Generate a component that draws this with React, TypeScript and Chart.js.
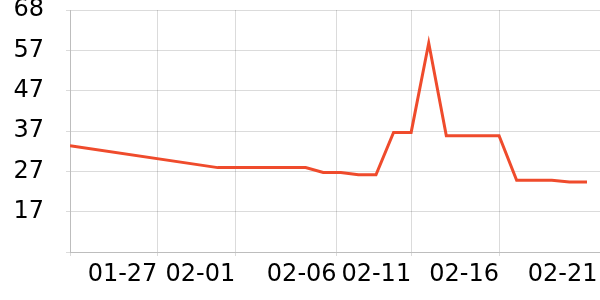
import React, { useEffect, useRef } from "react";
import { Chart, registerables } from "chart.js";

Chart.register(...registerables);

// Dates (MM-DD or MM-DD HH:mm) and values of the series
const pointDates = [
  "01-22 14:24", "01-31", "02-01", "02-02", "02-03", "02-04", "02-05",
  "02-06", "02-07", "02-08", "02-09", "02-10", "02-11", "02-12",
  "02-13", "02-14", "02-15", "02-16", "02-17", "02-18", "02-19",
  "02-20", "02-21",
];
const pointValues = [
  33.5, 28, 28, 28, 28, 28, 28,
  26.8, 26.8, 26.2, 26.2, 36.85, 36.85, 59.3,
  36, 36, 36, 36, 24.8, 24.8, 24.8,
  24.4, 24.4,
];

// x axis range and tick times
const xRange = ["01-22 14:24", "02-21 17:45"];
const xTickDates = ["01-27 13:40", "02-01", "02-06 18:14", "02-11", "02-16", "02-21 14:24"];

// y axis range and tick count
const yRange = [6.8, 67.6];
const yTickCount = 7;

const YEAR = 2024;
function toDay(s: string): number {
  const [md, hm] = s.split(" ");
  const [m, d] = md.split("-").map(Number);
  let h = 0, mi = 0;
  if (hm) [h, mi] = hm.split(":").map(Number);
  return Date.UTC(YEAR, m - 1, d, h, mi) / 86400000;
}
function fmtDay(v: number): string {
  const dt = new Date(v * 86400000);
  const m = String(dt.getUTCMonth() + 1).padStart(2, "0");
  const d = String(dt.getUTCDate()).padStart(2, "0");
  return `${m}-${d}`;
}

const GRID = "rgba(0,0,0,0.14)";

export default function App() {
  const ref = useRef<HTMLCanvasElement | null>(null);
  useEffect(() => {
    if (!ref.current) return;
    const font = { family: "DejaVu Sans", size: 24 };
    const xMin = toDay(xRange[0]);
    const xMax = toDay(xRange[1]);
    const tickDays = xTickDates.map(toDay);
    const chart = new Chart(ref.current, {
      type: "line",
      data: {
        datasets: [
          {
            data: pointDates.map((d, i) => ({ x: toDay(d), y: pointValues[i] })),
            borderColor: "#ef4b2c",
            backgroundColor: "#ef4b2c",
            borderWidth: 3,
            pointRadius: 0,
            tension: 0,
          },
        ],
      },
      options: {
        animation: false,
        responsive: true,
        maintainAspectRatio: false,
        plugins: { legend: { display: false }, tooltip: { enabled: false } },
        layout: { padding: 0 },
        scales: {
          x: {
            type: "linear",
            min: xMin,
            max: xMax,
            afterBuildTicks: (scale: any) => {
              scale.ticks = [xMin, ...tickDays].map((v) => ({ value: v }));
            },
            afterFit: (scale: any) => {
              scale.height = 48;
              scale.paddingRight = 0;
              scale.paddingLeft = 0;
            },
            border: { color: GRID },
            grid: {
              tickLength: 4,
              color: (ctx: any) =>
                ctx.index === tickDays.length ? "rgba(0,0,0,0)" : GRID,
            },
            ticks: {
              autoSkip: false,
              maxRotation: 0,
              minRotation: 0,
              align: "end",
              padding: 4,
              color: "#000",
              font,
              callback: (v: any, i: number) => (i === 0 ? "" : fmtDay(Number(v))),
            },
          },
          y: {
            min: yRange[0],
            max: yRange[1],
            afterFit: (scale: any) => {
              scale.width = 70;
              scale.paddingTop = 10;
            },
            border: { color: GRID },
            grid: { tickLength: 4, color: GRID },
            ticks: {
              count: yTickCount,
              padding: 22,
              color: "#000",
              font,
              callback: (v: any, i: number) => (i === 0 ? "" : String(Math.round(Number(v)))),
            },
          },
        },
      },
    });
    return () => chart.destroy();
  }, []);
  return (
    <div style={{ position: "fixed", left: 0, top: 0, width: 600, height: 300, background: "#fff" }}>
      <canvas ref={ref} />
    </div>
  );
}
